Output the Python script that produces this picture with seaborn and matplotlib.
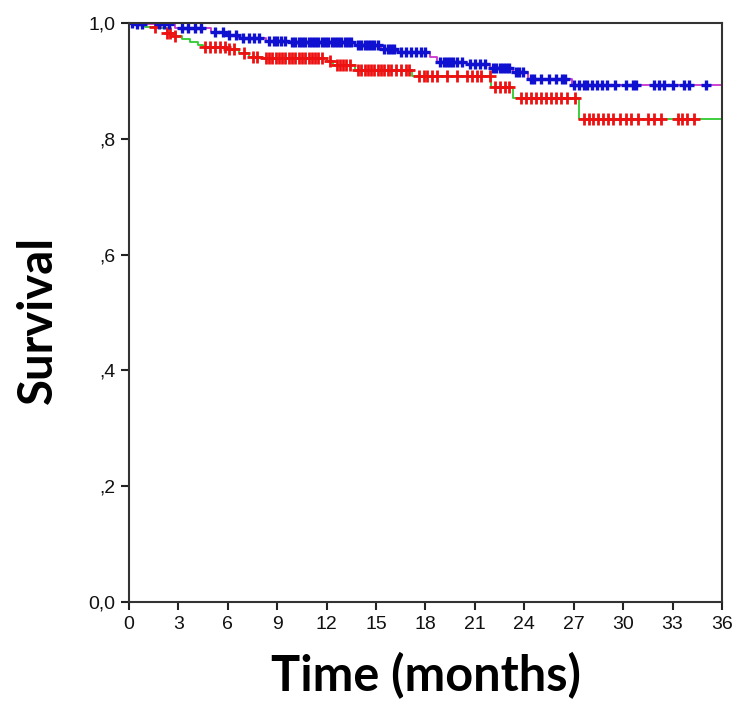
import numpy as np
import pandas as pd
import seaborn as sns
import matplotlib.pyplot as plt

# Kaplan-Meier steps (time in months, survival after step)
blue_t = [0, 0.3, 2.8, 5.0, 5.8, 6.7, 8.3, 9.7, 13.7, 15.3, 16.3, 18.3, 18.7, 20.5, 21.9, 23.3, 24.2, 26.9]
blue_s = [1.0, 0.998, 0.991, 0.985, 0.979, 0.975, 0.969, 0.967, 0.962, 0.956, 0.950, 0.942, 0.933, 0.930, 0.922, 0.916, 0.904, 0.893]

red_t = [0, 0.5, 1.0, 1.8, 2.3, 2.7, 3.2, 3.7, 4.2, 4.5, 5.9, 6.7, 7.3, 8.1, 12.0, 12.4, 13.7, 17.2, 22.0, 23.3, 27.3]
red_s = [1.0, 0.997, 0.994, 0.991, 0.983, 0.977, 0.972, 0.967, 0.962, 0.959, 0.956, 0.948, 0.942, 0.939, 0.934, 0.927, 0.919, 0.908, 0.890, 0.871, 0.834]

# censored cases (months)
blue_cens = [0.2, 0.5, 0.8, 1.8, 2.1, 2.4, 3.2, 3.6, 4.0, 4.4, 5.2, 5.7, 6.1, 6.5, 6.9, 7.3, 7.6, 7.9,
             8.5, 8.8, 9.0, 9.2, 9.5, 9.9, 10.1, 10.3, 10.5, 10.7, 10.9, 11.1, 11.3, 11.5, 11.7, 11.9,
             12.1, 12.3, 12.5, 12.7, 12.9, 13.1, 13.3, 13.5, 13.9, 14.1, 14.3, 14.5, 14.7, 14.9, 15.1,
             15.5, 15.7, 15.9, 16.1, 16.5, 16.8, 17.1, 17.4, 17.7, 18.0, 18.9, 19.1, 19.3, 19.5, 19.7,
             19.9, 20.2, 20.7, 21.0, 21.3, 21.6, 22.1, 22.3, 22.5, 22.7, 22.9, 23.1, 23.5, 23.7, 23.9,
             24.4, 24.6, 25.0, 25.5, 25.9, 26.3, 26.5, 27.0, 27.3, 27.6, 27.8, 28.1, 28.4, 28.7,
             29.0, 29.5, 30.2, 30.6, 30.8, 31.9, 32.2, 32.5, 33.0, 33.7, 34.0, 35.0]
red_cens = [1.6, 2.3, 2.5, 2.8, 4.6, 4.9, 5.2, 5.5, 5.8, 6.1, 6.4, 7.0, 7.5, 7.8, 8.3, 8.5, 8.7, 8.9,
            9.1, 9.3, 9.5, 9.7, 9.9, 10.1, 10.3, 10.5, 10.7, 10.9, 11.1, 11.3, 11.5, 11.7, 12.2, 12.6,
            12.8, 13.0, 13.2, 13.4, 13.9, 14.1, 14.3, 14.5, 14.7, 14.9, 15.1, 15.3, 15.5, 15.7, 15.9,
            16.2, 16.5, 16.8, 17.0, 17.6, 17.9, 18.1, 18.4, 18.7, 19.3, 19.9, 20.5, 20.8, 21.1, 21.4,
            21.9, 22.2, 22.5, 22.8, 23.1, 23.8, 24.1, 24.4, 24.7, 25.0, 25.3, 25.6, 25.9, 26.2, 26.6,
            27.1, 27.6, 27.9, 28.2, 28.5, 28.8, 29.1, 29.4, 29.8, 30.2, 30.5, 30.9, 31.5, 31.9, 32.3,
            33.3, 33.6, 33.9, 34.3]

t_end = 36
x_ticks = list(range(0, 37, 3))
y_ticks = [0.0, 0.2, 0.4, 0.6, 0.8, 1.0]
y_tick_labels = ["0,0", ",2", ",4", ",6", ",8", "1,0"]


def step_value(times, surv, when):
    idx = np.searchsorted(times, when, side="right") - 1
    return np.asarray(surv)[idx]


sns.set_theme(style="ticks")
plt.rcParams["font.family"] = ["Liberation Sans", "DejaVu Sans"]

fig = plt.figure(figsize=(7.47, 7.23), dpi=100)
ax = fig.add_axes([0.1727, 0.1674, 0.7938, 0.8006])

df_blue = pd.DataFrame({"t": blue_t + [t_end], "s": blue_s + [blue_s[-1]]})
df_red = pd.DataFrame({"t": red_t + [t_end], "s": red_s + [red_s[-1]]})

sns.lineplot(data=df_red, x="t", y="s", drawstyle="steps-post", color="#2ecc2e", lw=1.3, ax=ax, estimator=None)
sns.lineplot(data=df_blue, x="t", y="s", drawstyle="steps-post", color="#cc33cc", lw=1.3, ax=ax, estimator=None)

ax.plot(red_cens, step_value(red_t, red_s, red_cens), ls="none", marker="+",
        ms=8.5, mew=2.0, color="#ee1111")
ax.plot(blue_cens, step_value(blue_t, blue_s, blue_cens), ls="none", marker="+",
        ms=7.5, mew=2.4, color="#1010d0")

ax.set_xlim(0, 36)
ax.set_ylim(0, 1.0)
ax.set_xticks(x_ticks)
ax.set_yticks(y_ticks)
ax.set_yticklabels(y_tick_labels)
ax.tick_params(axis="both", length=6, width=1.5, labelsize=14, colors="#222222",
               labelcolor="#111111", pad=4)
for sp in ax.spines.values():
    sp.set_visible(True)
    sp.set_linewidth(1.5)
    sp.set_color("#333333")

ax.set_xlabel("Time (months)", fontsize=35, fontweight="bold", color="black",
              family=["Lato", "DejaVu Sans"])
ax.set_ylabel("Survival", fontsize=34, fontweight="bold", color="black",
              family=["Lato", "DejaVu Sans"])
ax.xaxis.set_label_coords(0.5, -0.086)
ax.yaxis.set_label_coords(-0.116, 0.487)

fig.savefig("out.png", dpi=100)
